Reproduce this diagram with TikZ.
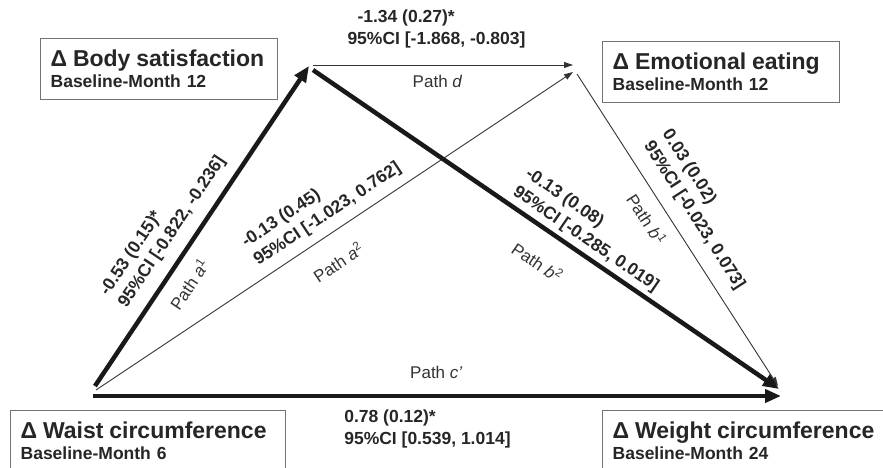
\documentclass[tikz,border=0pt]{standalone}
\usepackage{fontspec}
\setmainfont{Liberation Sans}
\usetikzlibrary{arrows.meta}
\tikzset{
  box/.style={draw=black!55, line width=1.3pt, fill=white, anchor=north west, align=left,
    text width=#1, minimum height=61pt, inner xsep=10pt, inner ysep=0pt, text=black!85,
    font=\bfseries\fontsize{17.5}{21}\selectfont},
  thick path/.style={line width=4.5pt, draw=black!90, -{Triangle[length=16pt,width=13pt]}},
  thin path/.style={line width=0.9pt, draw=black!80, -{Triangle[length=9pt,width=6pt]}},
  est/.style={font=\bfseries\fontsize{17.5}{22}\selectfont, align=left, inner sep=0pt, text=black!85},
  pathlbl/.style={font=\fontsize{17}{20}\selectfont, inner sep=0pt, text=black!80}
}
\newcommand{\boxtitle}[2]{{\fontsize{23}{26}\selectfont #1}\\#2}

\begin{document}
\begin{tikzpicture}[x=1pt, y=-1pt]
  \useasboundingbox (0,0) rectangle (883,467);
  \clip (0,0) rectangle (883,467);

  \node[box=217pt] (body) at (40,38) {\boxtitle{Δ Body satisfaction}{Baseline-Month 12}};
  \node[box=217pt] (emo) at (602,41) {\boxtitle{Δ Emotional eating}{Baseline-Month 12}};
  \node[box=255pt] (waist) at (10,410) {\boxtitle{Δ Waist circumference}{Baseline-Month 6}};
  \node[box=280pt] (weight) at (602,410) {\boxtitle{Δ Weight circumference}{Baseline-Month 24}};

  \coordinate (waistA) at (95,386);
  \coordinate (waistB) at (96,390);
  \coordinate (waistC) at (93,396);
  \coordinate (bodyA) at (309,66);
  \coordinate (bodyB) at (313,65);
  \coordinate (bodyC) at (313,70);
  \coordinate (emoA) at (573,65);
  \coordinate (emoB) at (573,72);
  \coordinate (emoC) at (577,74);
  \coordinate (weightA) at (779,389);
  \coordinate (weightB) at (778,386);
  \coordinate (weightC) at (781,396);

  \draw[thin path] (bodyB) -- node[est, pos=0.131, anchor=south west, yshift=16pt] {\hspace*{10pt}-1.34 (0.27)*\\95\%CI [-1.868, -0.803]}
    node[pathlbl, pos=0.479, below=10pt] {Path \textit{d}} (emoA);
  \draw[thin path] (waistB) -- node[est, sloped, pos=0.506, above=9pt] {-0.13 (0.45)\\95\%CI [-1.023, 0.762]}
    node[pathlbl, sloped, pos=0.475, below=20pt] {Path \textit{a}\textsuperscript{2}} (emoB);
  \draw[thin path] (emoC) -- node[est, sloped, pos=0.492, above=13pt] {0.03 (0.02)\\95\%CI [-0.023, 0.073]}
    node[pathlbl, sloped, pos=0.43, below=12pt] {Path \textit{b}\textsuperscript{1}} (weightB);

  \draw[thick path] (waistA) -- node[est, sloped, pos=0.444, above=11pt] {-0.53 (0.15)*\\95\%CI [-0.822, -0.236]}
    node[pathlbl, sloped, pos=0.356, below=12pt] {Path \textit{a}\textsuperscript{1}} (bodyA);
  \draw[thick path] (bodyC) -- node[est, sloped, pos=0.568, above=4pt] {-0.13 (0.08)\\95\%CI [-0.285, 0.019]}
    node[pathlbl, sloped, pos=0.52, below=22pt] {Path \textit{b}\textsuperscript{2}} (weightA);
  \draw[thick path] (waistC) -- node[pathlbl, pos=0.499, above=15pt] {Path \textit{c'}}
    node[est, pos=0.362, anchor=north west, yshift=-12pt] {0.78 (0.12)*\\95\%CI [0.539, 1.014]} (weightC);
\end{tikzpicture}
\end{document}
